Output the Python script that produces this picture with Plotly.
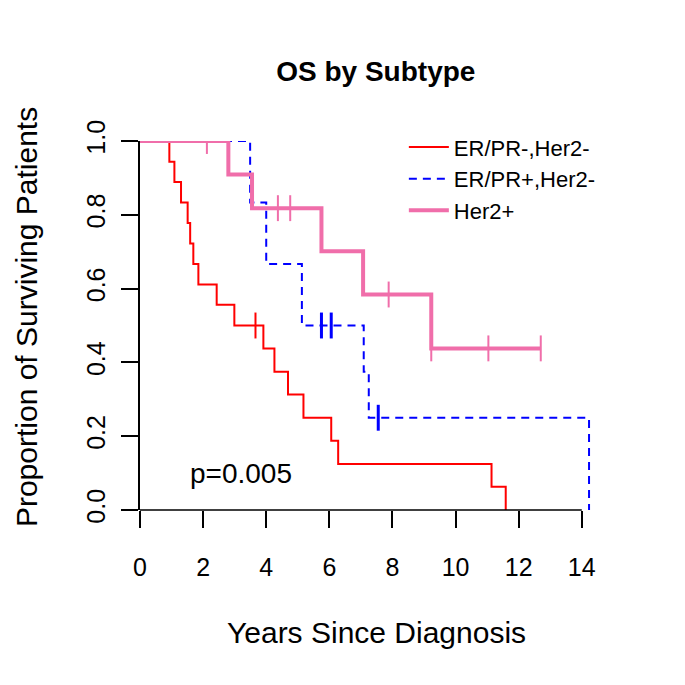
import plotly.graph_objects as go

# ---- data (Kaplan-Meier steps) ----
group_names = ["ER/PR-,Her2-", "ER/PR+,Her2-", "Her2+"]

red_times = [0, 0.93, 1.09, 1.30, 1.51, 1.59, 1.69, 1.85, 2.43, 2.99, 3.91, 4.26, 4.69, 5.18, 6.06, 6.28, 11.14, 11.59]
red_surv = [1.0, 0.944, 0.889, 0.833, 0.778, 0.722, 0.667, 0.611, 0.556, 0.500, 0.438, 0.375, 0.313, 0.250, 0.188, 0.125, 0.063, 0.0]
red_cens_t = [3.66]
red_cens_s = [0.500]

blue_times = [0, 3.49, 4.00, 5.13, 7.09, 7.25, 14.23]
blue_surv = [1.0, 0.833, 0.667, 0.500, 0.375, 0.250, 0.0]
blue_cens_t = [5.75, 6.06, 7.55]
blue_cens_s = [0.500, 0.500, 0.250]

pink_times = [0, 2.80, 3.55, 5.75, 7.07, 9.23, 12.70]
pink_surv = [1.0, 0.909, 0.818, 0.701, 0.584, 0.438, 0.438]
pink_cens_t = [2.12, 4.37, 4.76, 7.88, 9.23, 11.04, 12.70]
pink_cens_s = [1.0, 0.818, 0.818, 0.584, 0.438, 0.438, 0.438]

x_ticks = [0, 2, 4, 6, 8, 10, 12, 14]
y_ticks = [0.0, 0.2, 0.4, 0.6, 0.8, 1.0]
y_ticklabels = ["0.0", "0.2", "0.4", "0.6", "0.8", "1.0"]
p_value_text = "p=0.005"

RED = "#FF0000"
BLUE = "#0000FF"
PINK = "#F06EAA"
FONT = "Liberation Sans, Arial, sans-serif"

fig = go.Figure()

series = [
    (group_names[0], red_times, red_surv, red_cens_t, red_cens_s, RED, 2, "solid", 2),
    (group_names[1], blue_times, blue_surv, blue_cens_t, blue_cens_s, BLUE, 2, "8px,6px", 3),
    (group_names[2], pink_times, pink_surv, pink_cens_t, pink_cens_s, PINK, 4, "solid", 2),
]

for name, t, s, ct, cs, col, lw, dash, cw in series:
    fig.add_trace(go.Scatter(
        x=t, y=s, mode="lines", name=name,
        line=dict(color=col, width=lw, dash=dash, shape="hv"),
        showlegend=True,
    ))
    fig.add_trace(go.Scatter(
        x=ct, y=cs, mode="markers", showlegend=False,
        marker=dict(symbol="line-ns", size=18.5, line=dict(color=col, width=cw)),
    ))

xmax = max(max(red_times), max(blue_times), max(pink_times)) * 1.04

fig.update_xaxes(
    range=[0, xmax], tickvals=x_ticks, ticktext=[str(v) for v in x_ticks],
    ticks="outside", ticklen=17, tickwidth=1.5, tickcolor="black",
    showline=False, showgrid=False, zeroline=False,
    tickfont=dict(size=25, color="black", family=FONT),
    ticklabelstandoff=18,
)
fig.update_yaxes(
    range=[0, 1], tickvals=y_ticks, ticktext=y_ticklabels, tickangle=-90,
    ticks="outside", ticklen=17, tickwidth=1.5, tickcolor="black",
    showline=True, linewidth=1.5, linecolor="black",
    showgrid=False, zeroline=False,
    tickfont=dict(size=25, color="black", family=FONT),
    ticklabelstandoff=6,
)

# R-style x axis line spanning only the tick range
fig.add_shape(type="line", xref="x", yref="paper", x0=x_ticks[0], x1=x_ticks[-1], y0=0, y1=0,
              line=dict(color="black", width=1.5))

fig.add_annotation(text=p_value_text, x=3.2, y=0.10, xref="x", yref="y",
                   showarrow=False, font=dict(size=28, color="black", family=FONT))
fig.add_annotation(text="Years Since Diagnosis", x=0.506, y=-0.333, xref="paper", yref="paper",
                   xanchor="center", yanchor="middle", showarrow=False,
                   font=dict(size=30, color="black", family=FONT))
fig.add_annotation(text="Proportion of Surviving Patients", x=-0.244, y=0.523, xref="paper", yref="paper",
                   xanchor="center", yanchor="middle", textangle=-90, showarrow=False,
                   font=dict(size=30, color="black", family=FONT))

fig.update_layout(
    width=685, height=685,
    margin=dict(l=132, r=85.5, t=133, b=183, autoexpand=False),
    paper_bgcolor="white", plot_bgcolor="white",
    title=dict(text="<b>OS by Subtype</b>", x=0.505, xref="paper", xanchor="center",
               y=1 - 63 / 685, yanchor="middle",
               font=dict(size=28, color="black", family=FONT)),
    legend=dict(x=0.565, y=1.04, xanchor="left", yanchor="top", bgcolor="rgba(0,0,0,0)",
                font=dict(size=22, color="black", family=FONT), itemwidth=40,
                tracegroupgap=0),
    showlegend=True,
)

fig.write_html("out.html")
